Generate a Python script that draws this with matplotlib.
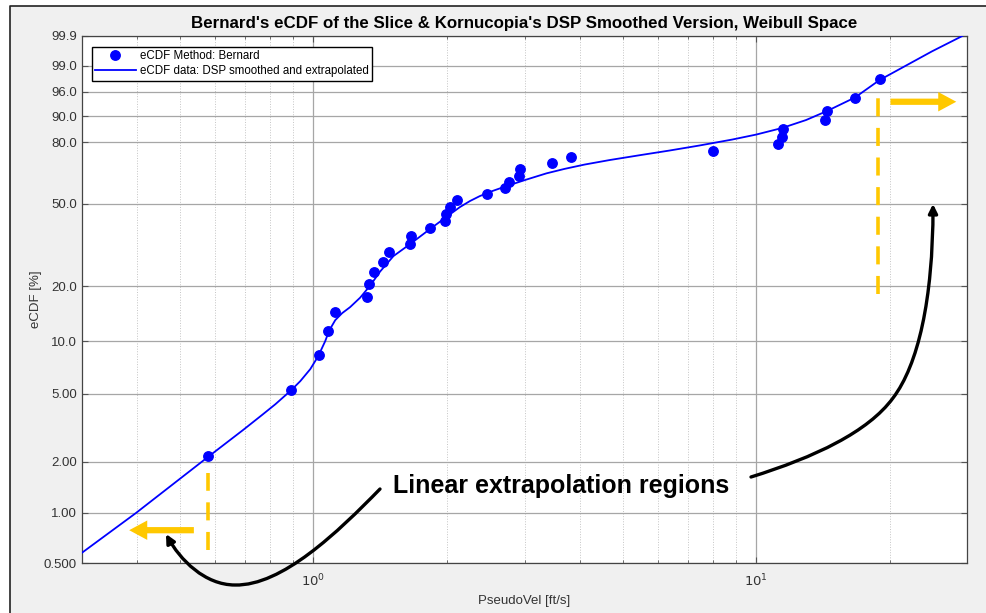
import numpy as np
import matplotlib
matplotlib.use('Agg')
import matplotlib.pyplot as plt
from matplotlib.path import Path
from matplotlib.patches import FancyArrowPatch, Rectangle
from matplotlib.lines import Line2D
from matplotlib.ticker import FixedLocator, NullFormatter

plt.rcParams['font.family'] = ['Liberation Sans', 'DejaVu Sans']

# Bernard eCDF points
vel = [0.577, 0.892, 1.028, 1.081, 1.117, 1.321, 1.339, 1.374, 1.440, 1.485,
       1.652, 1.658, 1.834, 1.980, 1.990, 2.038, 2.113, 2.462, 2.706, 2.773,
       2.914, 2.925, 3.467, 3.818, 7.97, 11.21, 11.43, 11.52, 14.30, 14.43,
       16.71, 18.99]
ecdf = [2.16, 5.25, 8.33, 11.42, 14.51, 17.59, 20.68, 23.77, 26.85, 29.94,
        33.02, 36.11, 39.20, 42.28, 45.37, 48.46, 51.54, 54.63, 57.72, 60.80,
        63.89, 66.98, 70.06, 73.15, 76.23, 79.32, 82.41, 85.49, 88.58, 91.67,
        94.75, 97.84]

# DSP smoothed / extrapolated curve
curve_x = [0.30, 0.397, 0.577, 0.6955, 0.7674, 0.8211, 0.8558, 0.892, 0.9348,
           0.9846, 1.026, 1.064, 1.086, 1.121, 1.162, 1.211, 1.276, 1.344, 1.415,
           1.517, 1.654, 1.834, 2.000, 2.143, 2.258, 2.377, 2.543, 2.731, 3.029,
           3.361, 3.695, 4.099, 4.667, 5.451, 6.370, 7.439, 8.830, 10.0, 11.44,
           12.96, 14.45, 16.71, 18.99, 21.00, 24.95, 29.2]
curve_p = [0.576, 0.99, 2.12, 3.08, 3.77, 4.34, 4.77, 5.24, 5.91,
           6.93, 8.22, 10.0, 11.46, 13.11, 14.33, 15.46, 17.41, 20.20, 23.92,
           28.69, 32.87, 38.71, 43.98, 48.41, 51.28, 53.68, 56.25, 58.64, 61.91,
           65.04, 67.30, 69.45, 71.67, 74.00, 76.23, 78.54, 81.19, 83.28, 85.87,
           88.73, 91.54, 94.88, 97.71, 98.73, 99.63, 99.9]

yticks = [0.5, 1, 2, 5, 10, 20, 50, 80, 90, 96, 99, 99.9]
ytick_labels = ['0.500', '1.00', '2.00', '5.00', '10.0', '20.0', '50.0',
                '80.0', '90.0', '96.0', '99.0', '99.9']


def weib(p):
    p = np.clip(np.asarray(p, dtype=float), 1e-6, 99.99999)
    return np.log10(-np.log(1 - p / 100.0))


def weib_inv(w):
    return 100.0 * (1 - np.exp(-10.0 ** np.asarray(w, dtype=float)))


W, H = 987, 613
fig = plt.figure(figsize=(W / 100, H / 100), dpi=100, facecolor='white')


def fp(x, y):
    # pixel -> figure fraction
    return (x / W, 1 - y / H)


# grey window background with dark frame on top/left
fig.add_artist(Rectangle(fp(10, H), (W - 10) / W, (H - 6) / H,
                         transform=fig.transFigure, facecolor='#f0f0f0',
                         edgecolor='none', zorder=-10))
fig.add_artist(Line2D([10 / W, 10 / W, 1], [0, 1 - 6 / H, 1 - 6 / H],
                      transform=fig.transFigure, color='#222222', lw=1.2))

ax = fig.add_axes([81.7 / W, 1 - 563.3 / H, (967.5 - 81.7) / W, (563.3 - 36) / H])
ax.set_facecolor('white')

ax.set_xscale('log')
ax.set_yscale('function', functions=(weib, weib_inv))
ax.set_xlim(0.3, 30)
ax.set_ylim(0.5, 99.9)

ax.set_yticks(yticks)
ax.set_yticklabels(ytick_labels)
ax.yaxis.set_minor_locator(FixedLocator([]))
ax.set_xticks([1, 10])
ax.set_xticklabels(['$10^{0}$', '$10^{1}$'])
ax.xaxis.set_minor_locator(FixedLocator([0.4, 0.5, 0.6, 0.7, 0.8, 0.9,
                                         2, 3, 4, 5, 6, 7, 8, 9, 20, 30]))
ax.xaxis.set_minor_formatter(NullFormatter())

ax.grid(True, which='major', color='#a6a6a6', lw=0.9)
ax.grid(True, which='minor', axis='x', color='#c4c4c4', lw=0.7, ls=':')
ax.set_axisbelow(True)
ax.tick_params(which='both', direction='in', top=True, right=True,
               color='#555555', labelcolor='#333333', labelsize=9.5)
ax.tick_params(which='major', length=4)
ax.tick_params(which='minor', length=2.5)
ax.tick_params(axis='x', which='major', pad=7)
for s in ax.spines.values():
    s.set_color('#444444')
    s.set_linewidth(0.9)

ax.plot(vel, ecdf, 'o', color='blue', ms=6.8, label='eCDF Method: Bernard', zorder=3)
ax.plot(curve_x, curve_p, '-', color='blue', lw=1.3, solid_joinstyle='round',
        label='eCDF data: DSP smoothed and extrapolated', zorder=3)

ax.set_title("Bernard's eCDF of the Slice & Kornucopia's DSP Smoothed Version, Weibull Space",
             fontsize=12.2, fontweight='bold', pad=6)
ax.set_xlabel('PseudoVel [ft/s]', fontsize=9.5, color='#333333', labelpad=4)
ax.set_ylabel('eCDF [%]', fontsize=9.5, color='#333333', labelpad=1.5)

ax.legend(loc='upper left', bbox_to_anchor=(10 / 886, 1 - 11 / 527),
          borderaxespad=0, fontsize=8.3, frameon=True, fancybox=False,
          edgecolor='black', framealpha=1, handlelength=3.5,
          handletextpad=0.35, borderpad=0.3, labelspacing=0.25)

# yellow dashed markers of the extrapolation limits
yellow = '#ffc800'
ax.plot([0.577, 0.577], [0.598, 1.71], color=yellow, lw=2.6, dashes=(5, 3.2), zorder=4)
ax.plot([18.86, 18.86], [18.3, 94.7], color=yellow, lw=2.6, dashes=(5, 3.2), zorder=4)

# yellow arrows
arr = dict(facecolor=yellow, edgecolor='none', width=4.5, headwidth=14,
           headlength=13, shrink=0)
ax.annotate('', xy=(0.384, 0.786), xytext=(0.5375, 0.786), arrowprops=arr,
            annotation_clip=False)
ax.annotate('', xy=(28.3, 93.95), xytext=(20.1, 93.95), arrowprops=arr,
            annotation_clip=False)

# annotation text and black curved arrows
fig.text(*fp(561, 486), 'Linear extrapolation regions', fontsize=18,
         fontweight='bold', ha='center', va='center', color='black')

left_path = Path([fp(380, 489), fp(338, 532), fp(282, 586), fp(235, 585),
                  fp(205, 585), fp(180, 560), fp(166, 534)],
                 [Path.MOVETO, Path.CURVE4, Path.CURVE4, Path.CURVE4,
                  Path.CURVE4, Path.CURVE4, Path.CURVE4])
right_path = Path([fp(751, 477), fp(815, 457), fp(868, 432), fp(893, 398),
                   fp(918, 365), fp(933, 300), fp(933, 204)],
                  [Path.MOVETO, Path.CURVE4, Path.CURVE4, Path.CURVE4,
                   Path.CURVE4, Path.CURVE4, Path.CURVE4])
for pth in (left_path, right_path):
    fig.add_artist(FancyArrowPatch(path=pth, transform=fig.transFigure,
                                   arrowstyle='-|>', mutation_scale=13,
                                   lw=2.4, color='black'))

fig.savefig('out.png', dpi=100, facecolor=fig.get_facecolor())
